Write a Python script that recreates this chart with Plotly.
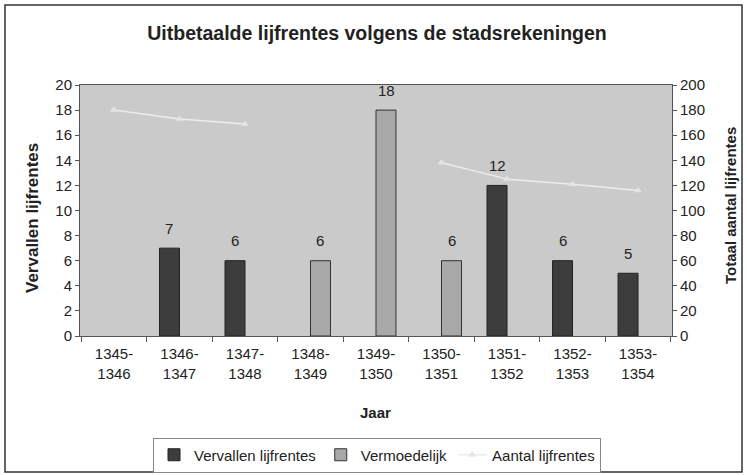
import plotly.graph_objects as go

categories = ["1345-<br>1346", "1346-<br>1347", "1347-<br>1348", "1348-<br>1349", "1349-<br>1350",
              "1350-<br>1351", "1351-<br>1352", "1352-<br>1353", "1353-<br>1354"]
vervallen = [None, 7, 6, None, None, None, 12, 6, 5]
vermoedelijk = [None, None, None, 6, 18, 6, None, None, None]
aantal = [180, 173, 169, None, None, 138, 125, 121, 116]

FONT = "Liberation Sans, Arial, sans-serif"
TXT = "#222222"

fig = go.Figure()
fig.add_trace(go.Bar(
    x=categories, y=vervallen, name="Vervallen lijfrentes",
    marker=dict(color="#3d3d3d", line=dict(color="#222222", width=1)),
))
fig.add_trace(go.Bar(
    x=categories, y=vermoedelijk, name="Vermoedelijk",
    marker=dict(color="#a8a8a8", line=dict(color="#333333", width=1)),
))
fig.add_trace(go.Scatter(
    x=categories, y=aantal, name="Aantal lijfrentes", yaxis="y2",
    mode="lines+markers", connectgaps=False,
    line=dict(color="#ececec", width=1.5),
    marker=dict(symbol="triangle-up", size=7, color="#e4e4e4"),
))

annotations = []
for cat, v in zip(categories, vervallen):
    if v is not None:
        annotations.append(dict(x=cat, y=v, xref="x", yref="y", text=str(v), showarrow=False,
                                xshift=-10, yshift=20, font=dict(size=15, color=TXT)))
for cat, v in zip(categories, vermoedelijk):
    if v is not None:
        annotations.append(dict(x=cat, y=v, xref="x", yref="y", text=str(v), showarrow=False,
                                xshift=10, yshift=20, font=dict(size=15, color=TXT)))
# axis titles
annotations += [
    dict(text="<b>Jaar</b>", xref="paper", yref="paper", x=(375 - 80) / 592, y=-(412 - 336) / 251,
         showarrow=False, font=dict(size=15, color=TXT), xanchor="center", yanchor="middle"),
    dict(text="<b>Vervallen lijfrentes</b>", xref="paper", yref="paper", x=-(80 - 32) / 592,
         y=(336 - 218) / 251, showarrow=False, textangle=-90, font=dict(size=17, color=TXT),
         xanchor="center", yanchor="middle"),
    dict(text="<b>Totaal aantal lijfrentes</b>", xref="paper", yref="paper", x=1 + (730 - 672) / 592,
         y=(336 - 206) / 251, showarrow=False, textangle=-90, font=dict(size=15, color=TXT),
         xanchor="center", yanchor="middle"),
]

fig.update_layout(
    width=747, height=475,
    margin=dict(l=80, r=75, t=85, b=139, autoexpand=False),
    paper_bgcolor="white",
    plot_bgcolor="#cacaca",
    barmode="group", bargap=0.39, bargroupgap=0,
    font=dict(family=FONT, size=15, color=TXT),
    title=dict(text="<b>Uitbetaalde lijfrentes volgens de stadsrekeningen</b>",
               x=(377 / 747), xanchor="center", y=1 - 33 / 475, yanchor="middle",
               font=dict(size=19.5, family=FONT, color=TXT)),
    xaxis=dict(
        type="category", tickson="boundaries", ticks="outside", ticklen=5,
        tickcolor="#555555", showline=True, linecolor="#555555", mirror=True,
        showgrid=False, tickfont=dict(size=15), automargin=False, ticklabelstandoff=4,
    ),
    yaxis=dict(
        range=[0, 20], dtick=2, ticks="outside", ticklen=4, tickcolor="#555555",
        showline=True, linecolor="#555555", showgrid=False, zeroline=False,
        tickfont=dict(size=15), automargin=False,
    ),
    yaxis2=dict(
        range=[0, 200], dtick=20, overlaying="y", side="right", ticks="outside",
        ticklen=4, tickcolor="#555555", showline=True, linecolor="#555555",
        showgrid=False, zeroline=False, tickfont=dict(size=15), automargin=False,
    ),
    legend=dict(
        orientation="h", x=(377 - 80) / 592, xanchor="center", y=-(455 - 336) / 251, yanchor="middle",
        bgcolor="white", bordercolor="#888888", borderwidth=1,
        font=dict(size=15), itemwidth=30, traceorder="normal",
    ),
    showlegend=True,
    annotations=annotations,
    shapes=[dict(type="rect", xref="paper", yref="paper",
                 x0=-75 / 592, x1=1 + 70 / 592, y0=-136 / 251, y1=1 + 80 / 251,
                 line=dict(color="#333333", width=1.5), fillcolor="rgba(0,0,0,0)")],
)

fig.write_html("out.html", config={"displayModeBar": False},
               post_script="document.body.style.margin='0';")
